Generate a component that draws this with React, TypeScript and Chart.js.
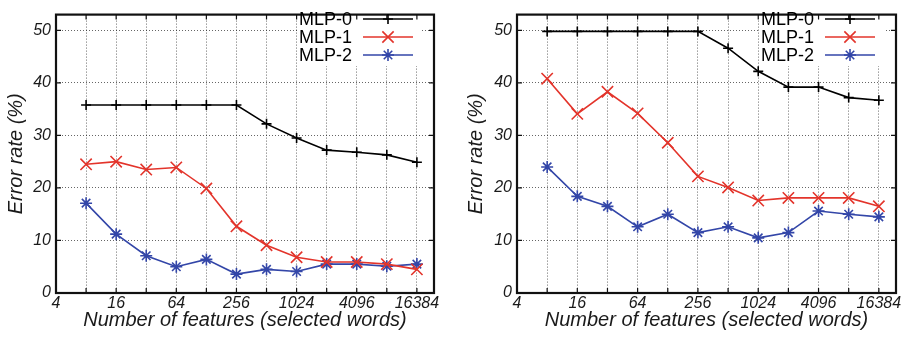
import React, { useEffect, useRef } from 'react';
import { Chart, registerables } from 'chart.js';

Chart.register(...registerables);

// ---------- data ----------
const features = [8, 16, 32, 64, 128, 256, 512, 1024, 2048, 4096, 8192, 16384];
const xTickValues = [4, 8, 16, 32, 64, 128, 256, 512, 1024, 2048, 4096, 8192, 16384];
const xLabelValues = [4, 16, 64, 256, 1024, 4096, 16384];
const yTickValues = [0, 10, 20, 30, 40, 50];
const seriesNames = ['MLP-0', 'MLP-1', 'MLP-2'];

const leftMLP0 = [35.8, 35.8, 35.8, 35.8, 35.8, 35.8, 32.2, 29.5, 27.2, 26.8, 26.3, 24.9];
const leftMLP1 = [24.5, 25.0, 23.5, 23.9, 19.9, 12.7, 9.1, 6.8, 5.9, 5.9, 5.5, 4.5];
const leftMLP2 = [17.1, 11.2, 7.1, 5.0, 6.4, 3.6, 4.5, 4.1, 5.5, 5.5, 5.1, 5.5];

const rightMLP0 = [49.8, 49.8, 49.8, 49.8, 49.8, 49.8, 46.6, 42.2, 39.2, 39.2, 37.2, 36.7];
const rightMLP1 = [40.8, 34.1, 38.3, 34.2, 28.6, 22.2, 20.1, 17.6, 18.1, 18.1, 18.1, 16.5];
const rightMLP2 = [24.0, 18.4, 16.5, 12.6, 15.0, 11.5, 12.6, 10.5, 11.5, 15.6, 15.0, 14.5];

const xTitle = 'Number of features (selected words)';
const yTitle = 'Error rate (%)';

// ---------- styles ----------
const FONT = '"Liberation Sans", Arial, Helvetica, sans-serif';
const COLORS = ['#000000', '#e3342b', '#3346a8'];
const STYLES = ['cross', 'crossRot', 'star'];
const RADII = [5, 8, 6];

function drawMarker(ctx: CanvasRenderingContext2D, style: string, x: number, y: number, r: number) {
  ctx.beginPath();
  if (style === 'cross' || style === 'star') {
    ctx.moveTo(x - r, y);
    ctx.lineTo(x + r, y);
    ctx.moveTo(x, y - r);
    ctx.lineTo(x, y + r);
  }
  if (style === 'crossRot' || style === 'star') {
    const d = r * Math.SQRT1_2;
    ctx.moveTo(x - d, y - d);
    ctx.lineTo(x + d, y + d);
    ctx.moveTo(x + d, y - d);
    ctx.lineTo(x - d, y + d);
  }
  ctx.stroke();
}

const framePlugin = {
  id: 'frameTicks',
  afterDraw(chart: any) {
    const { ctx, chartArea } = chart;
    const { left, right, top, bottom } = chartArea;
    const xs = chart.scales.x;
    const ys = chart.scales.y;
    ctx.save();
    ctx.strokeStyle = '#111';
    ctx.lineWidth = 1.2;
    const tl = 5;
    ctx.beginPath();
    xTickValues.forEach((v) => {
      const px = xs.getPixelForValue(v);
      if (px <= left + 1 || px >= right - 1) return;
      ctx.moveTo(px, bottom);
      ctx.lineTo(px, bottom - tl);
      ctx.moveTo(px, top);
      ctx.lineTo(px, top + tl);
    });
    yTickValues.forEach((v) => {
      const py = ys.getPixelForValue(v);
      if (py >= bottom - 1 || py <= top + 1) return;
      ctx.moveTo(left, py);
      ctx.lineTo(left + tl, py);
      ctx.moveTo(right, py);
      ctx.lineTo(right - tl, py);
    });
    ctx.stroke();
    ctx.lineWidth = 2.2;
    ctx.strokeStyle = '#111';
    ctx.strokeRect(left, top, right - left, bottom - top);
    ctx.restore();
  },
};

const insideLegendPlugin = {
  id: 'insideLegend',
  beforeDatasetsDraw(chart: any, _args: any, opts: any) {
    const { ctx, chartArea } = chart;
    const right = chartArea.right;
    ctx.save();
    ctx.fillStyle = '#ffffff';
    ctx.fillRect(right - opts.boxLeft, chartArea.top + 1, opts.boxLeft - opts.boxRight, opts.boxBottom - chartArea.top - 1);
    ctx.restore();
  },
  afterDraw(chart: any, _args: any, opts: any) {
    const { ctx, chartArea } = chart;
    const right = chartArea.right;
    ctx.save();
    ctx.font = `18px ${FONT}`;
    ctx.textAlign = 'right';
    ctx.textBaseline = 'middle';
    chart.data.datasets.forEach((ds: any, i: number) => {
      const y = opts.rows[i];
      ctx.fillStyle = '#000';
      ctx.fillText(ds.label, right - opts.textRight, y + 1);
      ctx.strokeStyle = ds.borderColor;
      ctx.lineWidth = 1.6;
      ctx.beginPath();
      ctx.moveTo(right - opts.lineStart, y);
      ctx.lineTo(right - opts.lineEnd, y);
      ctx.stroke();
      const mx = (right - opts.lineStart + right - opts.lineEnd) / 2;
      ctx.lineWidth = 1.6;
      drawMarker(ctx, ds.pointStyle, mx, y, ds.pointRadius);
    });
    ctx.restore();
  },
};

function buildConfig(series: number[][], yAxisWidth: number, padRight: number): any {
  return {
    type: 'line',
    data: {
      datasets: series.map((vals, i) => ({
        label: seriesNames[i],
        data: features.map((f, j) => ({ x: f, y: vals[j] })),
        borderColor: COLORS[i],
        backgroundColor: COLORS[i],
        borderWidth: 1.6,
        pointStyle: STYLES[i],
        pointRadius: RADII[i],
        pointBorderWidth: 1.6,
        pointBorderColor: COLORS[i],
        pointHoverRadius: RADII[i],
        tension: 0,
        fill: false,
      })),
    },
    options: {
      responsive: false,
      maintainAspectRatio: false,
      animation: false,
      events: [],
      layout: { padding: { left: 0, right: padRight, top: 3, bottom: 0 } },
      plugins: {
        legend: { display: false },
        tooltip: { enabled: false },
        insideLegend: {
          textRight: 82,
          lineStart: 71,
          lineEnd: 21,
          rows: [19, 37, 55],
          boxLeft: 136,
          boxRight: 12,
          boxBottom: 66,
        },
      },
      scales: {
        x: {
          type: 'logarithmic',
          min: 4,
          max: 24300,
          afterBuildTicks: (axis: any) => {
            axis.ticks = xTickValues.map((v) => ({ value: v }));
          },
          afterFit: (scale: any) => {
            scale.height = 44;
          },
          ticks: {
            autoSkip: false,
            maxRotation: 0,
            minRotation: 0,
            padding: 1,
            color: '#1a1a1a',
            font: { family: FONT, size: 16, style: 'italic' },
            callback: (v: any) => (xLabelValues.includes(Number(v)) ? String(v) : ''),
          },
          grid: { color: 'rgba(0,0,0,0.6)', lineWidth: 1, drawTicks: false },
          border: { display: false, dash: [1, 2] },
          title: {
            display: true,
            text: xTitle,
            color: '#1a1a1a',
            font: { family: FONT, size: 20, style: 'italic' },
            padding: { top: 0, bottom: 5 },
          },
        },
        y: {
          type: 'linear',
          min: 0,
          max: 53,
          afterBuildTicks: (axis: any) => {
            axis.ticks = yTickValues.map((v) => ({ value: v }));
          },
          afterFit: (scale: any) => {
            scale.width = yAxisWidth;
          },
          ticks: {
            padding: 5,
            color: '#1a1a1a',
            font: { family: FONT, size: 16, style: 'italic' },
          },
          grid: { color: 'rgba(0,0,0,0.6)', lineWidth: 1, drawTicks: false },
          border: { display: false, dash: [1, 2] },
          title: {
            display: true,
            text: yTitle,
            color: '#1a1a1a',
            font: { family: FONT, size: 20, style: 'italic' },
            padding: { top: 4, bottom: 0 },
          },
        },
      },
    },
    plugins: [framePlugin, insideLegendPlugin],
  };
}

export default function App() {
  const leftRef = useRef<HTMLCanvasElement | null>(null);
  const rightRef = useRef<HTMLCanvasElement | null>(null);

  useEffect(() => {
    const c1 = new Chart(leftRef.current as HTMLCanvasElement, buildConfig([leftMLP0, leftMLP1, leftMLP2], 56, 26));
    const c2 = new Chart(rightRef.current as HTMLCanvasElement, buildConfig([rightMLP0, rightMLP1, rightMLP2], 57, 15));
    return () => {
      c1.destroy();
      c2.destroy();
    };
  }, []);

  return (
    <div style={{ position: 'absolute', left: 0, top: 0, width: 911, height: 337, background: '#fff' }}>
      <canvas ref={leftRef} width={460} height={337} style={{ position: 'absolute', left: 0, top: 0, width: 460, height: 337 }} />
      <canvas ref={rightRef} width={451} height={337} style={{ position: 'absolute', left: 460, top: 0, width: 451, height: 337 }} />
    </div>
  );
}
